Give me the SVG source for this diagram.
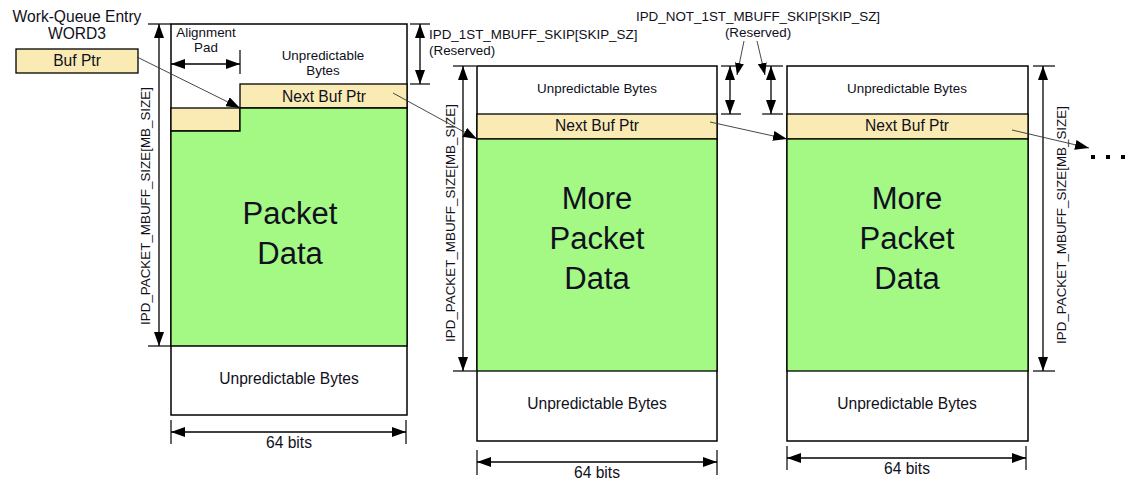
<svg xmlns="http://www.w3.org/2000/svg" width="1142" height="492" viewBox="0 0 1142 492">
<style>
text{font-family:"Liberation Sans",Arial,sans-serif;fill:#101020}
.box{fill:#fff;stroke:#000;stroke-width:1.5}
.yel{fill:#faebb4;stroke:#000;stroke-width:1.3}
.grn{fill:#a3f983;stroke:#000;stroke-width:1.3}
.dim{stroke:#000;stroke-width:1.3;fill:none}
.tick{stroke:#000;stroke-width:1.2;fill:none}
.ptr{stroke:#333;stroke-width:0.9;fill:none}
.s12{font-size:13.4px}
.s14{font-size:15.6px}
.big{font-size:31px}
</style>
<defs>
<marker id="ah" viewBox="0 0 14 10" refX="14" refY="5" markerWidth="14" markerHeight="10" markerUnits="userSpaceOnUse" orient="auto-start-reverse"><path d="M0,0L14,5L0,10Z" fill="#000"/></marker>
<marker id="ahs" viewBox="0 0 12 9" refX="12" refY="4.5" markerWidth="12" markerHeight="9" markerUnits="userSpaceOnUse" orient="auto"><path d="M0,0L12,4.5L0,9Z" fill="#000"/></marker>
</defs>

<g id="wqe">
<text class="s14" x="77" y="22" text-anchor="middle">Work-Queue Entry</text>
<text class="s14" x="77" y="39" text-anchor="middle">WORD3</text>
<rect class="yel" x="16" y="49" width="122" height="24"/>
<text class="s14" x="77" y="66" text-anchor="middle">Buf Ptr</text>
</g>

<g id="buffer1">
<rect class="box" x="171" y="24" width="236" height="391"/>
<rect class="yel" x="240" y="84" width="167" height="24"/>
<rect class="yel" x="171" y="108" width="69" height="23"/>
<path class="grn" d="M240,108H407V346H171V131H240Z"/>
<text class="s12" x="206" y="37" text-anchor="middle">Alignment</text>
<text class="s12" x="206" y="52" text-anchor="middle">Pad</text>
<text class="s12" x="323" y="60" text-anchor="middle">Unpredictable</text>
<text class="s12" x="323" y="75" text-anchor="middle">Bytes</text>
<text class="s14" x="324" y="102" text-anchor="middle">Next Buf Ptr</text>
<text class="big" x="290" y="224" text-anchor="middle">Packet</text>
<text class="big" x="290" y="264" text-anchor="middle">Data</text>
<text class="s14" x="289" y="384" text-anchor="middle">Unpredictable Bytes</text>
<line class="tick" x1="240" y1="50" x2="240" y2="74"/>
<line class="dim" x1="171" y1="64" x2="240" y2="64" marker-start="url(#ah)" marker-end="url(#ah)"/>
<line class="tick" x1="148" y1="24" x2="171" y2="24"/>
<line class="tick" x1="148" y1="346" x2="171" y2="346"/>
<line class="dim" x1="159" y1="24" x2="159" y2="346" marker-start="url(#ah)" marker-end="url(#ah)"/>
<text class="s12" transform="translate(150,206) rotate(-90)" text-anchor="middle">IPD_PACKET_MBUFF_SIZE[MB_SIZE]</text>
<line class="tick" x1="410" y1="24" x2="430" y2="24"/>
<line class="tick" x1="410" y1="84" x2="430" y2="84"/>
<line class="dim" x1="420" y1="24" x2="420" y2="84" marker-start="url(#ah)" marker-end="url(#ah)"/>
<text class="s12" x="429" y="39">IPD_1ST_MBUFF_SKIP[SKIP_SZ]</text>
<text class="s12" x="429" y="55">(Reserved)</text>
<line class="tick" x1="171" y1="420" x2="171" y2="444"/>
<line class="tick" x1="406" y1="420" x2="406" y2="444"/>
<line class="dim" x1="171" y1="432" x2="406" y2="432" marker-start="url(#ah)" marker-end="url(#ah)"/>
<text class="s14" x="289" y="448" text-anchor="middle">64 bits</text>
</g>

<g id="buffer2">
<rect class="box" x="477" y="66" width="240" height="375"/>
<rect class="yel" x="477" y="114" width="240" height="25"/>
<rect class="grn" x="477" y="139" width="240" height="232"/>
<text class="s12" x="597" y="93" text-anchor="middle">Unpredictable Bytes</text>
<text class="s14" x="597" y="131" text-anchor="middle">Next Buf Ptr</text>
<text class="big" x="597" y="209" text-anchor="middle">More</text>
<text class="big" x="597" y="249" text-anchor="middle">Packet</text>
<text class="big" x="597" y="289" text-anchor="middle">Data</text>
<text class="s14" x="597" y="409" text-anchor="middle">Unpredictable Bytes</text>
<line class="tick" x1="453" y1="66" x2="476" y2="66"/>
<line class="tick" x1="453" y1="371" x2="476" y2="371"/>
<line class="dim" x1="463" y1="66" x2="463" y2="371" marker-start="url(#ah)" marker-end="url(#ah)"/>
<text class="s12" transform="translate(455,223) rotate(-90)" text-anchor="middle">IPD_PACKET_MBUFF_SIZE[MB_SIZE]</text>
<line class="tick" x1="477" y1="450" x2="477" y2="475"/>
<line class="tick" x1="717" y1="450" x2="717" y2="475"/>
<line class="dim" x1="477" y1="462" x2="717" y2="462" marker-start="url(#ah)" marker-end="url(#ah)"/>
<text class="s14" x="597" y="478" text-anchor="middle">64 bits</text>
</g>

<g id="skip">
<text class="s12" x="758" y="21" text-anchor="middle">IPD_NOT_1ST_MBUFF_SKIP[SKIP_SZ]</text>
<text class="s12" x="758" y="37" text-anchor="middle">(Reserved)</text>
<line class="tick" x1="721" y1="66" x2="741" y2="66"/>
<line class="tick" x1="721" y1="114" x2="741" y2="114"/>
<line class="dim" x1="730" y1="66" x2="730" y2="114" marker-start="url(#ah)" marker-end="url(#ah)"/>
<line class="tick" x1="762" y1="66" x2="783" y2="66"/>
<line class="tick" x1="762" y1="114" x2="783" y2="114"/>
<line class="dim" x1="771" y1="66" x2="771" y2="114" marker-start="url(#ah)" marker-end="url(#ah)"/>
</g>

<g id="buffer3">
<rect class="box" x="787" y="66" width="241" height="375"/>
<rect class="yel" x="787" y="114" width="241" height="25"/>
<rect class="grn" x="787" y="139" width="241" height="232"/>
<text class="s12" x="907" y="93" text-anchor="middle">Unpredictable Bytes</text>
<text class="s14" x="907" y="131" text-anchor="middle">Next Buf Ptr</text>
<text class="big" x="907" y="209" text-anchor="middle">More</text>
<text class="big" x="907" y="249" text-anchor="middle">Packet</text>
<text class="big" x="907" y="289" text-anchor="middle">Data</text>
<text class="s14" x="907" y="409" text-anchor="middle">Unpredictable Bytes</text>
<line class="tick" x1="1033" y1="66" x2="1055" y2="66"/>
<line class="tick" x1="1033" y1="371" x2="1055" y2="371"/>
<line class="dim" x1="1043" y1="66" x2="1043" y2="371" marker-start="url(#ah)" marker-end="url(#ah)"/>
<text class="s12" transform="translate(1066,225) rotate(-90)" text-anchor="middle">IPD_PACKET_MBUFF_SIZE[MB_SIZE]</text>
<line class="tick" x1="787" y1="446" x2="787" y2="470"/>
<line class="tick" x1="1026" y1="446" x2="1026" y2="470"/>
<line class="dim" x1="787" y1="458" x2="1026" y2="458" marker-start="url(#ah)" marker-end="url(#ah)"/>
<text class="s14" x="907" y="474" text-anchor="middle">64 bits</text>
</g>

<g id="connectors">
<line class="ptr" x1="137" y1="57" x2="240" y2="108" marker-end="url(#ah)"/>
<line class="ptr" x1="393" y1="93" x2="477" y2="139" marker-end="url(#ah)"/>
<line class="ptr" x1="710" y1="122" x2="787" y2="139" marker-end="url(#ah)"/>
<line class="ptr" x1="1012" y1="130" x2="1089" y2="148" marker-end="url(#ah)"/>
<line class="ptr" x1="744" y1="41" x2="737" y2="75" marker-end="url(#ahs)"/>
<line class="ptr" x1="757" y1="41" x2="765" y2="75" marker-end="url(#ahs)"/>
</g>

<g id="more">
<rect x="1091" y="155" width="4" height="4" fill="#000"/>
<rect x="1106" y="155" width="4" height="4" fill="#000"/>
<rect x="1121" y="155" width="4" height="4" fill="#000"/>
</g>
</svg>
